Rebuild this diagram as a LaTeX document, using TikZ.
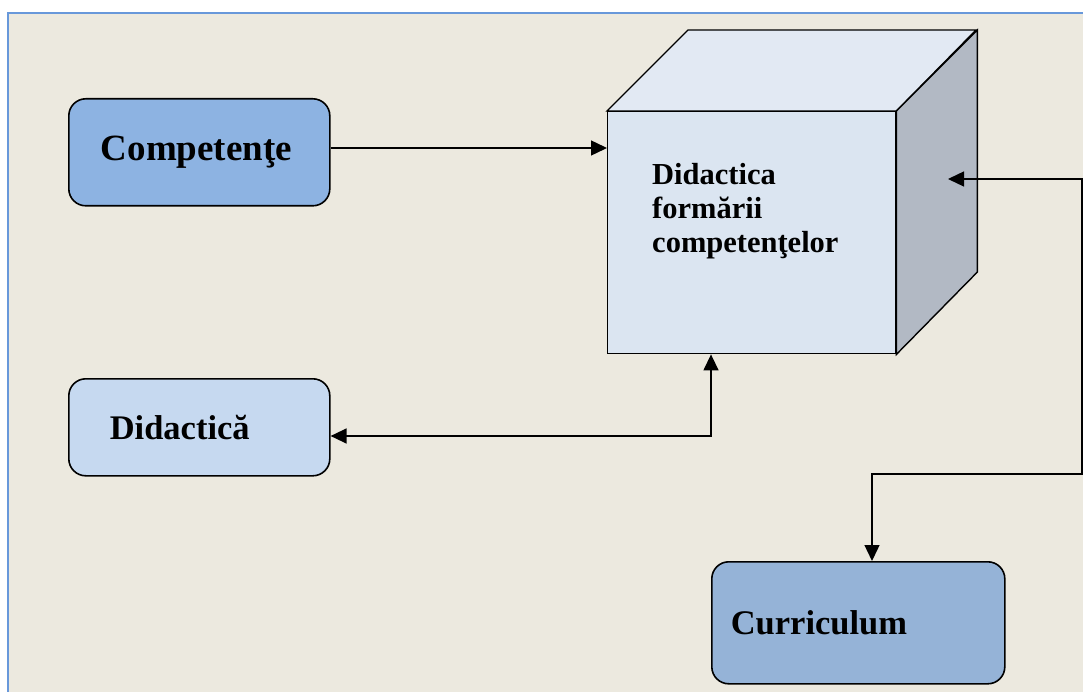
\documentclass[tikz,border=0pt]{standalone}
\usepackage{fontspec}
\setmainfont{Liberation Serif}
\usetikzlibrary{arrows.meta}

\definecolor{paper}{RGB}{236,233,223}
\definecolor{framecol}{RGB}{104,152,218}
\definecolor{compfill}{RGB}{141,179,226}
\definecolor{didfill}{RGB}{198,217,240}
\definecolor{currfill}{RGB}{149,179,215}
\definecolor{cubefront}{RGB}{219,229,241}
\definecolor{cubetop}{RGB}{226,233,243}
\definecolor{cubeside}{RGB}{178,185,196}

\tikzset{
  roundbox/.style={draw=black, line width=1.6pt, rounded corners=17pt,
    align=left, font=\bfseries, anchor=north west},
  cubeface/.style={draw=black, line width=1.4pt, line join=miter},
  link/.style={draw=black, line width=1.4pt},
  onehead/.style={-{Triangle[length=16pt,width=15pt]}},
  twoheads/.style={{Triangle[length=16pt,width=15pt]}-{Triangle[length=16pt,width=15pt]}}
}

\begin{document}
\begin{tikzpicture}[x=1pt,y=-1pt]
  \useasboundingbox (0,0) rectangle (1083,692);
  \clip (0,0) rectangle (1083,692);

  % page background and frame
  \fill[white] (0,0) rectangle (1083,692);
  \fill[paper] (8,13) rectangle (1100,710);
  \draw[framecol, line width=2pt] (8,710) -- (8,13) -- (1100,13);

  % rounded boxes
  \node[roundbox, fill=compfill, minimum height=107pt, text width=197pt,
        inner xsep=32pt, inner ysep=0pt,
        font=\bfseries\fontsize{37}{40}\selectfont] (comp) at (68,98) {Competenţe};
  \node[roundbox, fill=didfill, minimum height=97pt, text width=179pt,
        inner xsep=41pt, inner ysep=0pt,
        font=\bfseries\fontsize{34.5}{38}\selectfont] (did) at (68,378) {Didactică};
  \node[roundbox, fill=currfill, minimum height=122pt, text width=255pt,
        inner xsep=19pt, inner ysep=0pt,
        font=\bfseries\fontsize{34.5}{38}\selectfont] (curr) at (711,561) {\raisebox{-4pt}{Curriculum}};

  % cube: front face, top face, right face
  \node[cubeface, fill=cubefront, anchor=north west, minimum width=288pt,
        minimum height=242pt, inner sep=0pt] (front) at (607,111) {};
  \filldraw[cubeface, fill=cubetop] (front.north west) -- ++(81,-81) -- ++(288,0)
    -- (front.north east) -- cycle;
  \filldraw[cubeface, fill=cubeside] (front.north east) -- ++(81,-81) -- ++(0,242)
    -- (front.south east) -- cycle;
  % the base anchor of a multi-line node sits on its last line
  \node[anchor=base west, align=left, inner sep=0pt,
        font=\bfseries\fontsize{30.5}{34}\selectfont] (title) at (652,253)
    {Didactica\\formării\\competenţelor};

  % connectors
  \coordinate (j1) at (711,436);
  \coordinate (rin) at (948,179);
  \coordinate (c1) at (1082,179);
  \coordinate (c2) at (1082,474);
  \coordinate (c3) at (872,474);

  \draw[link, onehead] (comp.east |- 0,148) -- (front.west |- 0,148);
  \draw[link, twoheads] (front.south -| j1) -- (j1) -- (did.east |- j1);
  \draw[link, twoheads] (rin) -- (c1) -- (c2) -- (c3) -- (c3 |- curr.north);
\end{tikzpicture}
\end{document}
